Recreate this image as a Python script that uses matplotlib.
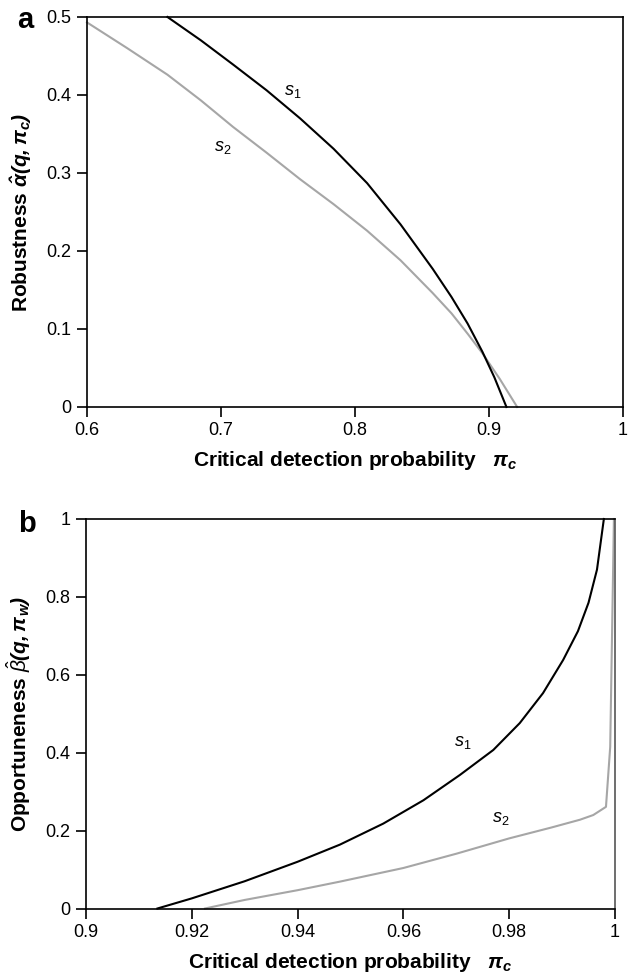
import matplotlib
matplotlib.use("Agg")
import matplotlib.pyplot as plt

plt.rcParams['font.family'] = ['Liberation Sans', 'DejaVu Sans']
plt.rcParams['mathtext.fontset'] = 'custom'
plt.rcParams['mathtext.rm'] = 'Liberation Sans'
plt.rcParams['mathtext.it'] = 'Liberation Sans:italic'
plt.rcParams['mathtext.bf'] = 'Liberation Sans:bold'
plt.rcParams['mathtext.bfit'] = 'Liberation Sans:italic:bold'

# panel a: robustness vs critical detection probability
a_s1_x = [0.660, 0.685, 0.709, 0.734, 0.759, 0.784, 0.809, 0.834, 0.858,
          0.872, 0.884, 0.895, 0.904, 0.913]
a_s1_y = [0.500, 0.470, 0.439, 0.406, 0.370, 0.331, 0.287, 0.234, 0.177,
          0.141, 0.107, 0.071, 0.038, 0.0]
a_s2_x = [0.600, 0.630, 0.660, 0.685, 0.709, 0.734, 0.759, 0.784, 0.809,
          0.834, 0.858, 0.872, 0.884, 0.895, 0.908, 0.921]
a_s2_y = [0.493, 0.460, 0.426, 0.393, 0.359, 0.326, 0.292, 0.260, 0.226,
          0.188, 0.146, 0.120, 0.094, 0.069, 0.036, 0.0]

# panel b: opportuneness vs critical detection probability
b_s1_x = [0.9135, 0.920, 0.930, 0.940, 0.948, 0.9562, 0.9638, 0.9707, 0.9770,
          0.9820, 0.9864, 0.9902, 0.9930, 0.9950, 0.9966, 0.9979]
b_s1_y = [0.0, 0.026, 0.070, 0.120, 0.164, 0.218, 0.278, 0.343, 0.407,
          0.476, 0.553, 0.638, 0.712, 0.785, 0.870, 1.0]
b_s2_x = [0.9225, 0.930, 0.940, 0.948, 0.960, 0.9701, 0.980, 0.9880, 0.9934,
          0.9959, 0.9983, 0.9991, 0.9997, 0.9998]
b_s2_y = [0.0, 0.022, 0.047, 0.069, 0.104, 0.141, 0.180, 0.208, 0.228,
          0.240, 0.261, 0.415, 0.913, 1.0]

a_xticks = [0.6, 0.7, 0.8, 0.9, 1.0]
a_xlabels = ['0.6', '0.7', '0.8', '0.9', '1']
a_yticks = [0, 0.1, 0.2, 0.3, 0.4, 0.5]
a_ylabels = ['0', '0.1', '0.2', '0.3', '0.4', '0.5']
b_xticks = [0.9, 0.92, 0.94, 0.96, 0.98, 1.0]
b_xlabels = ['0.9', '0.92', '0.94', '0.96', '0.98', '1']
b_yticks = [0, 0.2, 0.4, 0.6, 0.8, 1.0]
b_ylabels = ['0', '0.2', '0.4', '0.6', '0.8', '1']

black = '#000000'
grey = '#a6a6a6'

fig = plt.figure(figsize=(6.38, 9.75), dpi=100)
ax1 = fig.add_axes([0.1364, 0.5826, 0.8401, 0.4000])
ax2 = fig.add_axes([0.1348, 0.0682, 0.8291, 0.3995])


def style(ax, xt, xl, yt, yl):
    ax.set_xticks(xt)
    ax.set_xticklabels(xl)
    ax.set_yticks(yt)
    ax.set_yticklabels(yl)
    ax.tick_params(direction='out', length=7, width=1.2, labelsize=13, pad=4)
    for sp in ax.spines.values():
        sp.set_linewidth(1.2)
    ax.set_xlabel(r'Critical detection probability   $\mathbfit{\pi_c}$',
                  fontsize=15, fontweight='bold', labelpad=7)


ax1.plot(a_s2_x, a_s2_y, color=grey, lw=1.5, clip_on=False)
ax1.plot(a_s1_x, a_s1_y, color=black, lw=1.5, clip_on=False)
ax1.set_xlim(0.6, 1.0)
ax1.set_ylim(0, 0.5)
style(ax1, a_xticks, a_xlabels, a_yticks, a_ylabels)
ax1.set_ylabel(r'Robustness $\mathbfit{\hat{\alpha}(q,\pi_c)}$',
               fontsize=15, fontweight='bold', labelpad=9)
ax1.text(0.7537, 0.404, r'$s_1$', fontsize=13, ha='center', va='center')
ax1.text(0.7015, 0.333, r'$s_2$', fontsize=13, ha='center', va='center')

ax2.plot(b_s2_x, b_s2_y, color=grey, lw=1.5, clip_on=False)
ax2.plot(b_s1_x, b_s1_y, color=black, lw=1.5, clip_on=False)
ax2.set_xlim(0.9, 1.0)
ax2.set_ylim(0, 1.0)
style(ax2, b_xticks, b_xlabels, b_yticks, b_ylabels)
ax2.spines['right'].set_color('#555555')
ax2.set_ylabel(r'Opportuneness $\hat{\beta}\mathbfit{(q,\pi_w)}$',
               fontsize=15, fontweight='bold', labelpad=9)
ax2.text(0.9713, 0.425, r'$s_1$', fontsize=13, ha='center', va='center')
ax2.text(0.9784, 0.230, r'$s_2$', fontsize=13, ha='center', va='center')

fig.text(0.039, 0.979, 'a', fontsize=21, fontweight='bold', ha='center', va='center')
fig.text(0.042, 0.4626, 'b', fontsize=21, fontweight='bold', ha='center', va='center')

fig.savefig('out.png', dpi=100)
